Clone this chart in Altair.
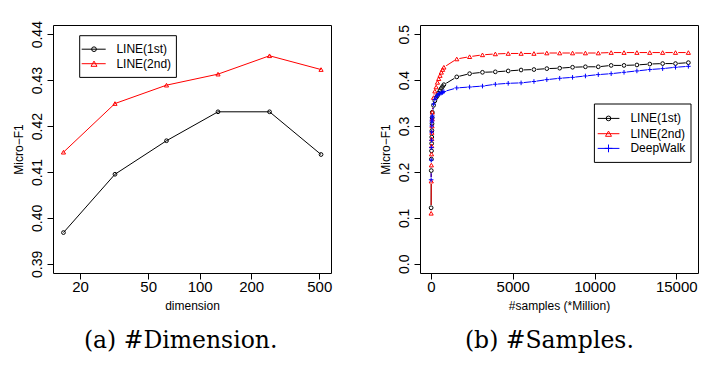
import altair as alt
import pandas as pd

SANS = "Liberation Sans"
SERIF = "DejaVu Serif"

# ---------------- Panel (a): #Dimension ----------------
dimensions = [16, 32, 64, 128, 256, 512]
dim_line1st = [0.3968, 0.4095, 0.4168, 0.4231, 0.4231, 0.4138]
dim_line2nd = [0.4143, 0.4249, 0.4289, 0.4313, 0.4353, 0.4323]
dim_xticks = [20, 50, 100, 200, 500]
dim_yticks = [0.39, 0.40, 0.41, 0.42, 0.43, 0.44]

# ---------------- Panel (b): #Samples ----------------
samples = [7.9, 15.7, 23.6, 31.5, 39.3, 47.2, 55.1, 63.0, 70.8, 78.7,
           157, 236, 315, 393, 472, 551, 630, 708, 787,
           1574, 2361, 3148, 3935, 4722, 5509, 6296, 7083, 7870, 8657,
           9444, 10231, 11018, 11805, 12592, 13379, 14166, 14953, 15740]
smp_line1st = [0.122, 0.203, 0.228, 0.246, 0.262, 0.276, 0.290, 0.305, 0.318, 0.330,
               0.345, 0.355, 0.362, 0.366, 0.372, 0.377, 0.382, 0.386, 0.390,
               0.407, 0.414, 0.417, 0.418, 0.420, 0.422, 0.423, 0.425, 0.426, 0.428,
               0.429, 0.429, 0.432, 0.432, 0.433, 0.435, 0.436, 0.436, 0.438]
smp_line2nd = [0.110, 0.180, 0.215, 0.239, 0.257, 0.272, 0.286, 0.300, 0.315, 0.330,
               0.362, 0.376, 0.385, 0.395, 0.403, 0.410, 0.417, 0.423, 0.428,
               0.446, 0.451, 0.455, 0.457, 0.458, 0.458, 0.458, 0.459, 0.459, 0.459,
               0.459, 0.459, 0.460, 0.460, 0.460, 0.460, 0.460, 0.460, 0.460]
smp_deepwalk = [0.183, 0.226, 0.253, 0.269, 0.287, 0.300, 0.309, 0.313, 0.318, 0.322,
                0.348, 0.358, 0.363, 0.367, 0.370, 0.371, 0.372, 0.373, 0.375,
                0.383, 0.385, 0.387, 0.391, 0.393, 0.394, 0.397, 0.401, 0.404, 0.406,
                0.409, 0.412, 0.414, 0.417, 0.420, 0.423, 0.425, 0.428, 0.430]
smp_xticks = [0, 5000, 10000, 15000]
smp_yticks = [0.0, 0.1, 0.2, 0.3, 0.4, 0.5]

series = ["LINE(1st)", "LINE(2nd)", "DeepWalk"]
colors = ["#000000", "#FF0000", "#0000FF"]
PLUS = "M-1,0H1M0,-1V1"
shapes = ["circle", "triangle-up", PLUS]
plot_sizes = [14, 21, 36]
legend_sizes = [22, 36, 60]

W, H = 278, 248
one = pd.DataFrame({"k": [0]})

color_enc = alt.Color("series:N", scale=alt.Scale(domain=series, range=colors), legend=None)
shape_enc = alt.Shape("series:N", scale=alt.Scale(domain=series, range=shapes), legend=None)
size_enc = alt.Size("series:N", scale=alt.Scale(domain=series, range=plot_sizes), legend=None)


def legend_layers(names, box, rows, seg, sym_x, text_x):
    layers = [alt.Chart(one).mark_rect(fill="white", stroke="black", strokeWidth=1).encode(
        x=alt.value(box[0]), x2=alt.value(box[1]), y=alt.value(box[2]), y2=alt.value(box[3]))]
    for name, yy in zip(names, rows):
        i = series.index(name)
        layers.append(alt.Chart(one).mark_rule(color=colors[i], strokeWidth=1).encode(
            x=alt.value(seg[0]), x2=alt.value(seg[1]), y=alt.value(yy)))
        layers.append(alt.Chart(one).mark_point(shape=shapes[i], color=colors[i], size=legend_sizes[i],
                                                filled=False, strokeWidth=1, opacity=1).encode(
            x=alt.value(sym_x), y=alt.value(yy)))
        layers.append(alt.Chart(one).mark_text(align="left", baseline="middle", font=SANS,
                                               fontSize=12, color="black").encode(
            x=alt.value(text_x), y=alt.value(yy), text=alt.value(name)))
    return layers


def caption(text, cx):
    return alt.Chart(one).mark_text(font=SERIF, fontSize=23.5, align="center", baseline="alphabetic",
                                    color="black").encode(
        x=alt.value(cx), y=alt.value(323), text=alt.value(text))


def y_axis(values, fmt):
    return alt.Axis(values=values, format=fmt, title="Micro\u2212F1", labelAngle=270, labelAlign="center",
                    labelBaseline="alphabetic", labelPadding=5.6, labelFontSize=14, labelOverlap=False,
                    titleAngle=270, titleX=-34.8, titleY=H / 2, titleBaseline="middle", titleAlign="center")


def x_axis(values, title):
    return alt.Axis(values=values, format="d", title=title, labelFontSize=15, labelPadding=0,
                    labelFlush=False, labelOverlap=False, titleX=139, titleY=32.6,
                    titleBaseline="middle", titleAlign="center")


# ----- left panel -----
dfa = pd.DataFrame({
    "dimension": dimensions * 2,
    "f1": dim_line1st + dim_line2nd,
    "series": ["LINE(1st)"] * len(dimensions) + ["LINE(2nd)"] * len(dimensions),
})
xa = alt.X("dimension:Q", scale=alt.Scale(type="log", domain=[13.9, 585.4], nice=False),
           axis=x_axis(dim_xticks, "dimension"))
ya = alt.Y("f1:Q", scale=alt.Scale(domain=[0.388, 0.442], nice=False, zero=False),
           axis=y_axis(dim_yticks, ".2f"))
base_a = alt.Chart(dfa)
left = alt.layer(
    base_a.mark_line(strokeWidth=1, clip=True).encode(x=xa, y=ya, color=color_enc, detail="series:N"),
    base_a.mark_point(filled=False, strokeWidth=1, opacity=1, clip=True).encode(
        x=xa, y=ya, color=color_enc, shape=shape_enc, size=size_enc),
    *legend_layers(["LINE(1st)", "LINE(2nd)"], (26.7, 123.4, 10.7, 52.4), (24.2, 38.7),
                   (28.7, 52.7), 41, 63.4),
    caption("(a) #Dimension.", 127.7),
).properties(width=W, height=H)

# ----- right panel (R type="b": lines broken around the symbols) -----
n = len(samples)
dfb = pd.DataFrame({
    "samples": samples * 3,
    "f1": smp_line1st + smp_line2nd + smp_deepwalk,
    "series": ["LINE(1st)"] * n + ["LINE(2nd)"] * n + ["DeepWalk"] * n,
})
xb = alt.X("samples:Q", scale=alt.Scale(domain=[-673, 16329], nice=False, zero=False),
           axis=x_axis(smp_xticks, "#samples (*Million)"))
yb = alt.Y("f1:Q", scale=alt.Scale(domain=[-0.02, 0.52], nice=False, zero=False),
           axis=y_axis(smp_yticks, ".1f"))
base_b = alt.Chart(dfb)
right = alt.layer(
    base_b.mark_line(strokeWidth=1, clip=True).encode(x=xb, y=yb, color=color_enc, detail="series:N"),
    base_b.mark_point(filled=True, color="white", opacity=1, size=30, shape="circle", clip=True).encode(
        x=xb, y=yb, detail="series:N"),
    base_b.mark_point(filled=False, strokeWidth=1, opacity=1, clip=True).encode(
        x=xb, y=yb, color=color_enc, shape=shape_enc, size=size_enc),
    *legend_layers(series, (174.4, 271.0, 79.0, 137.4), (93.4, 108.7, 123.4),
                   (177.7, 199.4), 188.5, 210.4),
    caption("(b) #Samples.", 129.4),
).properties(width=W, height=H)

chart = alt.hconcat(left, right, spacing=45).properties(
    padding={"left": 3, "top": 12, "right": 0, "bottom": 0}
).configure(background="white").configure_view(
    stroke="black", strokeWidth=1
).configure_axis(
    domain=False, grid=False, ticks=True, tickColor="black", tickWidth=1, tickSize=6,
    labelColor="black", labelFont=SANS, titleFont=SANS, titleFontSize=12,
    titleFontWeight="normal", titleColor="black"
)

chart.save("out.html", embed_options={"renderer": "svg", "actions": False})
